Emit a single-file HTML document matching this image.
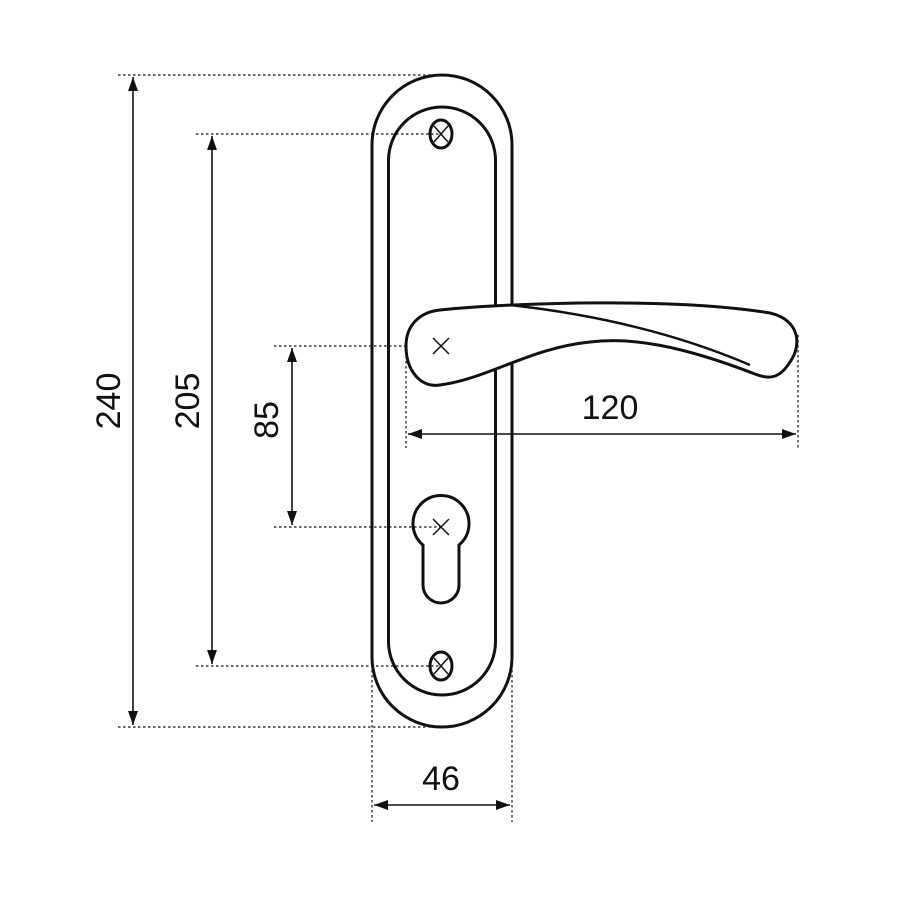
<!DOCTYPE html>
<html><head><style>body{margin:0;background:#fff}svg{display:block}text{font-family:"Liberation Sans",sans-serif;font-size:34px;fill:#111}</style></head><body>
<svg width="900" height="900" viewBox="0 0 900 900" xmlns="http://www.w3.org/2000/svg">
<defs><marker id="a" markerWidth="14" markerHeight="10" refX="14" refY="5" orient="auto-start-reverse" markerUnits="userSpaceOnUse"><path d="M0,0L14,5L0,10Z" fill="#111"/></marker></defs>
<g stroke="#111" stroke-width="1.2" stroke-dasharray="2.5,2.5" fill="none">
<path d="M118,75H440M118,727H440M196,134H441M196,666H441M274,346H441M274,527H441M406,346V448M798,335V450M372,660V822M512,660V822"/>
</g>
<g stroke="#111" stroke-width="1.6" fill="none">
<line x1="133" y1="77" x2="133" y2="725" marker-start="url(#a)" marker-end="url(#a)"/>
<line x1="212" y1="136" x2="212" y2="664" marker-start="url(#a)" marker-end="url(#a)"/>
<line x1="292" y1="348" x2="292" y2="525" marker-start="url(#a)" marker-end="url(#a)"/>
<line x1="408" y1="434" x2="796" y2="434" marker-start="url(#a)" marker-end="url(#a)"/>
<line x1="374" y1="805" x2="510" y2="805" marker-start="url(#a)" marker-end="url(#a)"/>
</g>
<g stroke="#111" stroke-width="3" fill="none">
<rect x="372" y="75" width="140" height="652" rx="70"/>
<rect x="388.5" y="107" width="107" height="588" rx="53.5"/>
<ellipse cx="441" cy="134" rx="11" ry="14"/>
<ellipse cx="441" cy="666" rx="11" ry="14"/>
<path d="M423,545 A28,28 0 1 1 459,545 V585 A18,18 0 0 1 423,585 Z"/>
<path d="M406,346 C406,325 420,312 440,310 C520,302 680,298 770,313 C800,320 802,345 790,362 C780,378 770,380 755,374 C680,345 630,337 590,342 C530,348 490,378 440,385 C420,388 406,370 406,346 Z" fill="#fff"/>
<path d="M510,305 C600,315 680,335 750,365" stroke-width="2.5"/>
</g>
<g stroke="#111" stroke-width="1.5">
<path d="M434,126L448,142M448,126L434,142M434,658L448,674M448,658L434,674M433,519L449,535M449,519L433,535M433,338L449,354M449,338L433,354"/>
</g>
<text transform="translate(120,401) rotate(-90)" text-anchor="middle">240</text>
<text transform="translate(199,401) rotate(-90)" text-anchor="middle">205</text>
<text transform="translate(278,420) rotate(-90)" text-anchor="middle">85</text>
<text x="610" y="419" text-anchor="middle">120</text>
<text x="441" y="790" text-anchor="middle">46</text>
</svg>
</body></html>
